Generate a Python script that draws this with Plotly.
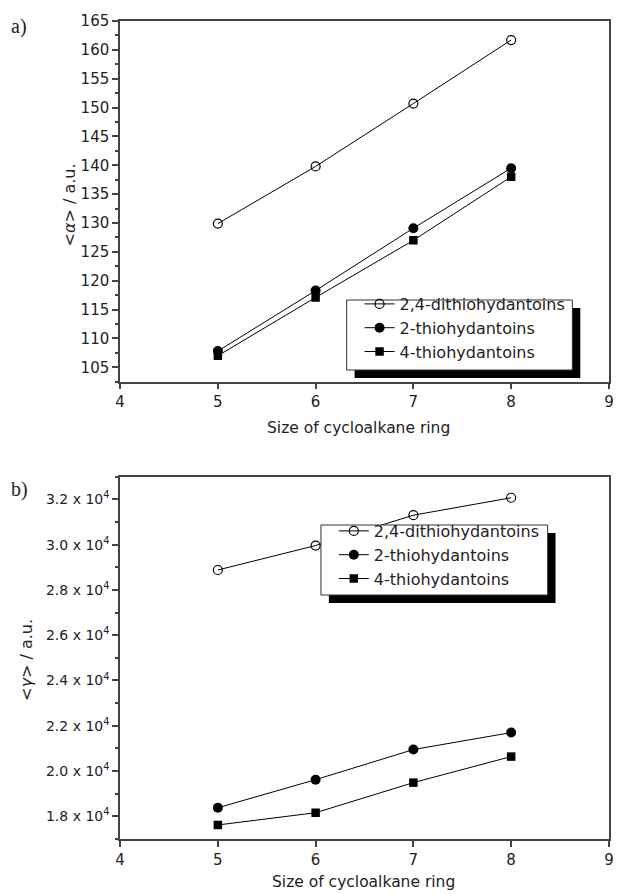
import plotly.graph_objects as go

ring_size = [5, 6, 7, 8]
names = ["2,4-dithiohydantoins", "2-thiohydantoins", "4-thiohydantoins"]

alpha_dithio = [129.9, 139.8, 150.7, 161.7]
alpha_2thio = [107.8, 118.3, 129.1, 139.5]
alpha_4thio = [107.0, 117.1, 127.0, 138.0]

gamma_dithio = [28880, 29960, 31300, 32070]
gamma_2thio = [18380, 19620, 20950, 21700]
gamma_4thio = [17620, 18160, 19490, 20640]

x_ticks = [4, 5, 6, 7, 8, 9]
alpha_ticks = [105, 110, 115, 120, 125, 130, 135, 140, 145, 150, 155, 160, 165]
gamma_ticks = [18000, 20000, 22000, 24000, 26000, 28000, 30000, 32000]
gamma_ticktext = ["1.8 x 10<sup>4</sup>", "2.0 x 10<sup>4</sup>", "2.2 x 10<sup>4</sup>",
                  "2.4 x 10<sup>4</sup>", "2.6 x 10<sup>4</sup>", "2.8 x 10<sup>4</sup>",
                  "3.0 x 10<sup>4</sup>", "3.2 x 10<sup>4</sup>"]

FONT = "'DejaVu Sans', sans-serif"
SERIF = "'Liberation Serif', 'DejaVu Serif', serif"
INK = "#222"
AX = "#444"

symbols = [
    dict(symbol="circle-open", size=9, color="black", line=dict(width=1.2, color="black")),
    dict(symbol="circle", size=10, color="black"),
    dict(symbol="square", size=8.5, color="black"),
]

fig = go.Figure()
for i, (nm, ys) in enumerate(zip(names, [alpha_dithio, alpha_2thio, alpha_4thio])):
    fig.add_trace(go.Scatter(x=ring_size, y=ys, name=nm, mode="lines+markers",
                             line=dict(color="black", width=1), marker=symbols[i],
                             xaxis="x", yaxis="y", legend="legend"))
for i, (nm, ys) in enumerate(zip(names, [gamma_dithio, gamma_2thio, gamma_4thio])):
    fig.add_trace(go.Scatter(x=ring_size, y=ys, name=nm, mode="lines+markers",
                             line=dict(color="black", width=1), marker=symbols[i],
                             xaxis="x2", yaxis="y2", legend="legend2"))

L, R, T, B = 120, 6, 21, 55
W, H = 620, 894
pw = W - L - R
ph = H - T - B

def px(xp):
    return (xp - L) / pw

def py(yp):
    return (H - B - yp) / ph

xaxis_common = dict(range=[3.999, 9.001], tickvals=x_ticks, ticks="outside", ticklen=6, tickwidth=1.5,
                    tickcolor=AX, showline=True, linecolor=AX, linewidth=1.5, mirror=True,
                    showgrid=False, zeroline=False, ticklabeloverflow="allow",
                    tickfont=dict(family=FONT, size=15, color=INK))

fig.update_layout(
    width=W, height=H,
    margin=dict(l=L, r=R, t=T, b=B),
    paper_bgcolor="white", plot_bgcolor="white",
    font=dict(family=FONT, color=INK),
    xaxis=dict(domain=[0, 1], anchor="y", **xaxis_common),
    yaxis=dict(domain=[py(381.7), 1], anchor="x", range=[102.5, 165], tickvals=alpha_ticks,
               ticks="outside", ticklen=6, tickwidth=1.5, tickcolor=AX,
               minor=dict(dtick=2.5, tick0=102.5, ticks="outside", ticklen=3, tickwidth=1.5, tickcolor=AX),
               showline=True, linecolor=AX, linewidth=1.5, mirror=True,
               showgrid=False, zeroline=False, ticklabeloverflow="allow",
               tickfont=dict(family=FONT, size=15, color=INK)),
    xaxis2=dict(domain=[0, 1], anchor="y2", **xaxis_common),
    yaxis2=dict(domain=[0, py(476.7)], anchor="x2", range=[17000, 33000], tickvals=gamma_ticks,
                ticktext=gamma_ticktext,
                ticks="outside", ticklen=6, tickwidth=1.5, tickcolor=AX,
                minor=dict(dtick=1000, tick0=17000, ticks="outside", ticklen=3, tickwidth=1.5, tickcolor=AX),
                showline=True, linecolor=AX, linewidth=1.5, mirror=True,
                showgrid=False, zeroline=False, ticklabeloverflow="allow",
                tickfont=dict(family=FONT, size=14, color=INK)),
    legend=dict(x=px(362), y=py(287), xanchor="left", yanchor="top",
                bgcolor="rgba(0,0,0,0)", borderwidth=0,
                font=dict(family=FONT, size=16, color=INK), itemwidth=30,
                tracegroupgap=0, traceorder="normal"),
    legend2=dict(x=px(336), y=py(514), xanchor="left", yanchor="top",
                 bgcolor="rgba(0,0,0,0)", borderwidth=0,
                 font=dict(family=FONT, size=16, color=INK), itemwidth=30,
                 tracegroupgap=0, traceorder="normal"),
    showlegend=True,
)

# legend boxes with drop shadows
for (bx0, by0, bx1, by1) in [(349, 300, 577, 370), (323, 525, 552, 595)]:
    fig.add_shape(type="rect", xref="paper", yref="paper",
                  x0=px(bx0 + 8), x1=px(bx1 + 8), y0=py(by1 + 8), y1=py(by0 + 8),
                  fillcolor="black", line=dict(width=0), layer="above")
    fig.add_shape(type="rect", xref="paper", yref="paper",
                  x0=px(bx0), x1=px(bx1), y0=py(by1), y1=py(by0),
                  fillcolor="white", line=dict(width=1, color="#333"), layer="above")

# axis titles
fig.add_annotation(text="&lt;<i>α</i>&gt; / a.u.", xref="paper", yref="paper", x=px(68), y=py(205),
                   xanchor="center", yanchor="middle",
                   textangle=-90, showarrow=False, font=dict(family=FONT, size=16, color=INK))
fig.add_annotation(text="&lt;<i>γ</i>&gt; / a.u.", xref="paper", yref="paper", x=px(25), y=py(660),
                   xanchor="center", yanchor="middle",
                   textangle=-90, showarrow=False, font=dict(family=FONT, size=16, color=INK))
fig.add_annotation(text="Size of cycloalkane ring", xref="paper", yref="paper", x=px(361), y=py(428),
                   xanchor="center", yanchor="middle", showarrow=False,
                   font=dict(family=FONT, size=15.5, color=INK))
fig.add_annotation(text="Size of cycloalkane ring", xref="paper", yref="paper", x=px(366), y=py(882),
                   xanchor="center", yanchor="middle", showarrow=False,
                   font=dict(family=FONT, size=15.5, color=INK))

fig.add_annotation(text="a)", xref="paper", yref="paper", x=px(8), y=py(27), xanchor="left", yanchor="middle",
                   showarrow=False, font=dict(family=SERIF, size=20, color=INK))
fig.add_annotation(text="b)", xref="paper", yref="paper", x=px(8), y=py(489), xanchor="left", yanchor="middle",
                   showarrow=False, font=dict(family=SERIF, size=20, color=INK))

fig.write_html("out.html", config={"displayModeBar": False},
               post_script="document.body.style.margin='0';document.body.style.overflow='hidden';")
